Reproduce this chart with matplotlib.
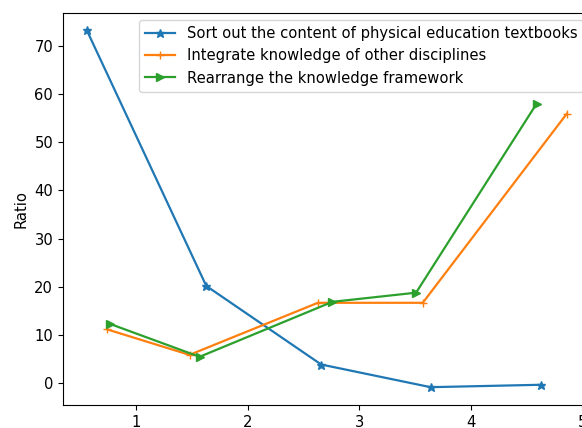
import matplotlib
matplotlib.use("Agg")
import matplotlib.pyplot as plt

# -----------------------------
# Data
# -----------------------------
labels = [
    "Sort out the content of physical education textbooks",
    "Integrate knowledge of other disciplines",
    "Rearrange the knowledge framework",
]
sort_x = [0.56, 1.63, 2.66, 3.64, 4.63]
sort_y = [73.2, 20.2, 3.9, -0.8, -0.3]
integrate_x = [0.74, 1.48, 2.63, 3.57, 4.86]
integrate_y = [11.2, 5.9, 16.7, 16.7, 55.9]
rearrange_x = [0.77, 1.57, 2.76, 3.51, 4.59]
rearrange_y = [12.3, 5.5, 16.9, 18.8, 58.0]

scale = 1.065
plt.rcParams["font.size"] = 10 * scale
plt.rcParams["lines.linewidth"] = 1.5 * scale
plt.rcParams["lines.markersize"] = 6 * scale

fig = plt.figure(figsize=(5.82, 4.28), dpi=100)
# axes runs a little past the right edge of the figure
ax = fig.add_axes([0.108, 0.0537, 0.907, 0.917])

ax.plot(sort_x, sort_y, marker="*", label=labels[0])
ax.plot(integrate_x, integrate_y, marker="+", label=labels[1])
ax.plot(rearrange_x, rearrange_y, marker=">", label=labels[2])

ax.set_ylabel("Ratio")
ax.legend(loc="upper right")

fig.savefig("out.png", dpi=100)
